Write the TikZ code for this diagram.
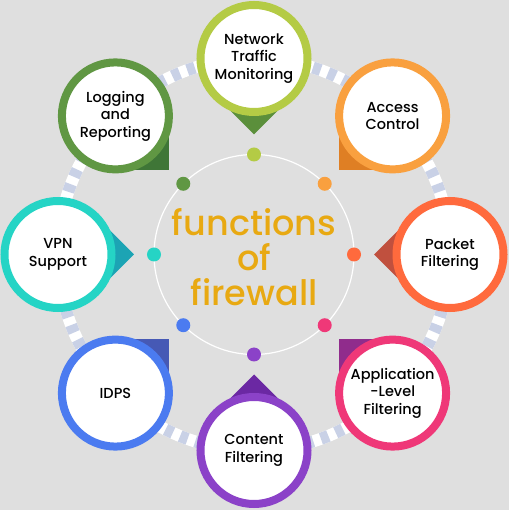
\documentclass[tikz,border=0pt]{standalone}
\usepackage{fontspec}
\usepackage{tikz}
\newfontfamily\funcfont{Poppins Medium}
\definecolor{bgGray}{HTML}{DFDFDF}
\definecolor{ringBlue}{HTML}{C9D1E6}
\definecolor{titleGold}{HTML}{E8A912}
\definecolor{ntmCol}{HTML}{B4CB45}
\definecolor{ntmDark}{HTML}{5B8F3B}
\definecolor{accCol}{HTML}{F9A03F}
\definecolor{accDark}{HTML}{DF7F24}
\definecolor{pktCol}{HTML}{FF6A3D}
\definecolor{pktDark}{HTML}{C0503E}
\definecolor{appCol}{HTML}{EF3878}
\definecolor{appDark}{HTML}{902C8C}
\definecolor{cntCol}{HTML}{8B42C8}
\definecolor{cntDark}{HTML}{6B28A3}
\definecolor{idpsCol}{HTML}{4B7BF0}
\definecolor{idpsDark}{HTML}{4659B5}
\definecolor{vpnCol}{HTML}{25D4C5}
\definecolor{vpnDark}{HTML}{1CA4B4}
\definecolor{logCol}{HTML}{609743}
\definecolor{logDark}{HTML}{3F7637}
\tikzset{
	func circle/.style={
		circle,
		fill=white,
		line width=8pt,
		minimum size=107pt,
		inner sep=0pt,
		align=center,
		text=black,
		font=\funcfont\fontsize{14.5}{17.5}\selectfont
	},
	func dot/.style={
		circle,
		inner sep=0pt,
		minimum size=14pt
	},
	dash ring/.style={
		line width=12pt,
		draw=ringBlue,
		dash pattern=on 8pt off 8pt
	},
}
\begin{document}
\begin{tikzpicture}[x=1pt,y=1pt]
\fill[bgGray] (-254,-255.5) rectangle (255,254.5);
\useasboundingbox (-254,-255.5) rectangle (255,254.5);

\draw[white, line width=12pt] (0,0) circle (196);
\draw[dash ring] (0,0) circle (196);
\draw[white, line width=1.2pt] (0,0) circle (100);

\fill[ntmDark, rotate=90] (196,0) -- (158,38) -- (120,0) -- (158,-38) -- cycle;
\fill[accDark, rotate=45] (196,0) -- (158,38) -- (120,0) -- (158,-38) -- cycle;
\fill[pktDark, rotate=0] (196,0) -- (158,38) -- (120,0) -- (158,-38) -- cycle;
\fill[appDark, rotate=-45] (196,0) -- (158,38) -- (120,0) -- (158,-38) -- cycle;
\fill[cntDark, rotate=-90] (196,0) -- (158,38) -- (120,0) -- (158,-38) -- cycle;
\fill[idpsDark, rotate=-135] (196,0) -- (158,38) -- (120,0) -- (158,-38) -- cycle;
\fill[vpnDark, rotate=180] (196,0) -- (158,38) -- (120,0) -- (158,-38) -- cycle;
\fill[logDark, rotate=135] (196,0) -- (158,38) -- (120,0) -- (158,-38) -- cycle;

\node[func circle, draw=ntmCol] (ntm) at (90:196) {Network\\Traffic\\Monitoring};
\node[func circle, draw=accCol] (access) at (45:196) {Access\\Control};
\node[func circle, draw=pktCol] (packet) at (0:196) {Packet\\Filtering};
\node[func circle, draw=appCol] (appLevel) at (-45:196) {Application\\-Level\\Filtering};
\node[func circle, draw=cntCol] (content) at (-90:196) {Content\\Filtering};
\node[func circle, draw=idpsCol] (idps) at (-135:196) {IDPS};
\node[func circle, draw=vpnCol] (vpn) at (180:196) {VPN\\Support};
\node[func circle, draw=logCol] (logging) at (135:196) {Logging\\and\\Reporting};

\node[func dot, fill=ntmCol] (ntmDot) at (90:100) {};
\node[func dot, fill=accCol] (accessDot) at (45:100) {};
\node[func dot, fill=pktCol] (packetDot) at (0:100) {};
\node[func dot, fill=appCol] (appLevelDot) at (-45:100) {};
\node[func dot, fill=cntCol] (contentDot) at (-90:100) {};
\node[func dot, fill=idpsCol] (idpsDot) at (-135:100) {};
\node[func dot, fill=vpnCol] (vpnDot) at (180:100) {};
\node[func dot, fill=logCol] (loggingDot) at (135:100) {};

\node[align=center, text=titleGold, font=\funcfont\fontsize{35}{35}\selectfont] (title) at (0,-3) {functions\\of\\firewall};
\end{tikzpicture}
\end{document}
